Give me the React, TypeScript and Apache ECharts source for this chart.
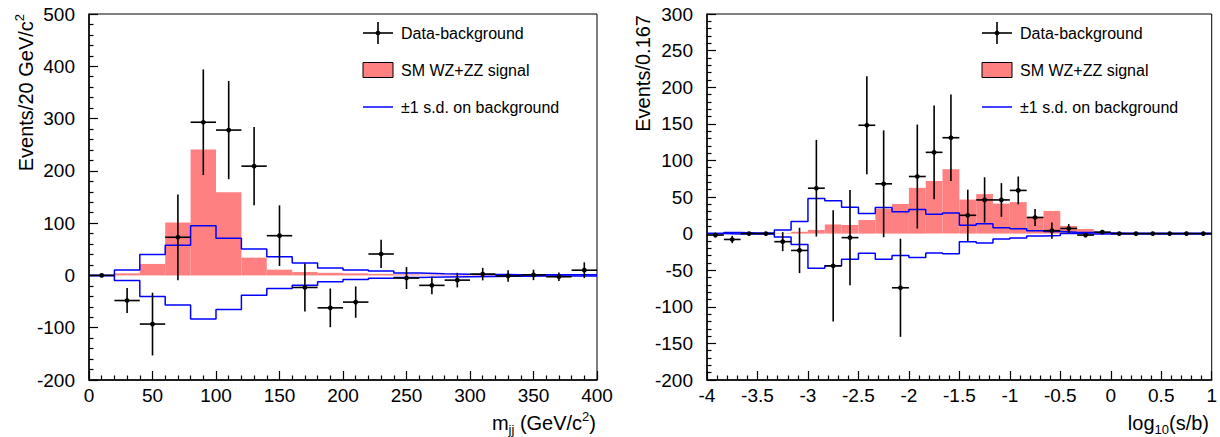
import React, { useEffect, useRef } from "react";
import * as echarts from "echarts";

// ---------- Left panel: m_jj ----------
const massEdges = [0, 20, 40, 60, 80, 100, 120, 140, 160, 180, 200, 220, 240, 260, 280, 300, 320, 340, 360, 380, 400];
const massData = [0, -48, -93, 73, 293, 278, 209, 76, -23, -62, -51, 41, -5, -19, -9, 2.5, -1, 1, -2.5, 10];
const massErr = [1, 24, 60, 82, 101, 94, 75, 58, 46, 37, 30, 27, 21, 17, 14, 12, 11, 10, 8, 15];
const massSignal = [0, 4, 22, 101, 241, 159, 34, 11, 6.5, 5, 4, 3, 2, 1.5, 1.2, 1, 0.8, 0.6, 0.5, 0.5];
const massBandUp = [0, 10.5, 40, 57.5, 95, 71, 50.5, 35.5, 24, 14, 10.5, 8.5, 4.6, 3.3, 2.2, 1.8, 1.5, 1.5, 1.3, 1.5];
const massBandDown = [0, -9.5, -40.5, -56.5, -83.5, -65, -38, -25, -19, -12, -8, -5.5, -4, -3, -2.5, -2, -1.5, -1.3, -1.2, -1];

// ---------- Right panel: log10(s/b) ----------
const lsbEdges = [-4, -3.833, -3.667, -3.5, -3.333, -3.167, -3, -2.833, -2.667, -2.5, -2.333, -2.167, -2, -1.833, -1.667, -1.5, -1.333, -1.167, -1, -0.833, -0.667, -0.5, -0.333, -0.167, 0, 0.167, 0.333, 0.5, 0.667, 0.833, 1];
const lsbData = [-2, -8, 0, 0, -11, -23, 62, -44, -5.5, 148, 68, -74, 78, 111, 131, 25, 46, 46, 59, 22, 4, 7, -2, 2, 0, 0, 0, 0, 0, 0];
const lsbErr = [3, 5, 1, 1, 13, 31, 66, 76, 65, 67, 73, 67, 71, 64, 59, 35, 31, 23, 19, 11.5, 11, 6, 3, 2, 1, 1, 1, 1, 1, 1];
const lsbSignal = [0, 0, 0, 0, 0.5, 2.5, 5, 12.5, 11.8, 18.5, 34, 40.5, 62.5, 71.8, 88, 46.5, 54, 41, 43, 23, 31, 10.5, 6.3, 2, 1, 1, 0.5, 0.5, 0.3, 0.3];
const lsbBandUp = [0, 1.5, 0.8, 0.8, 5, 16.5, 48, 45, 36, 27.5, 35.5, 30, 33, 26.5, 28, 11.5, 13.5, 8, 6.5, 3.8, 2.8, 2, 1.5, 1, 0.6, 0.5, 0.5, 0.5, 0.5, 0.5];
const lsbBandDown = [0, -0.5, -0.5, -0.5, -4.5, -15, -47.5, -44, -35, -27, -35, -30, -32.5, -26.5, -27.5, -11, -13, -7.5, -6, -3.3, -2.5, 0, -0.5, -0.5, -0.5, -0.5, -0.5, -0.5, -0.5, -0.5];

const legendLabels = ["Data-background", "SM WZ+ZZ signal", "\u00b11 s.d. on background"];

const FONT = "'Liberation Sans', Arial, Helvetica, sans-serif";
const SIGNAL_COLOR = "#ff8080";
const BAND_COLOR = "#0000ff";

function pointsData(edges: number[], vals: number[], errs: number[]) {
  return vals.map((v, i) => [
    (edges[i] + edges[i + 1]) / 2,
    v,
    (edges[i + 1] - edges[i]) / 2,
    errs[i],
  ]);
}
function histData(edges: number[], vals: number[]) {
  return vals.map((v, i) => [edges[i], edges[i + 1], v]);
}
function stepData(edges: number[], vals: number[]) {
  return edges.map((e, i) => [e, vals[Math.min(i, vals.length - 1)]]);
}

function renderPoint(params: any, api: any) {
  const x = api.value(0);
  const y = api.value(1);
  const hw = api.value(2);
  const e = api.value(3);
  const p = api.coord([x, y]);
  const t = api.coord([x, y + e]);
  const b = api.coord([x, y - e]);
  const l = api.coord([x - hw, y]);
  const r = api.coord([x + hw, y]);
  const st = { stroke: "#000", lineWidth: 1.6 };
  return {
    type: "group",
    children: [
      { type: "line", shape: { x1: p[0], y1: t[1], x2: p[0], y2: b[1] }, style: st },
      { type: "line", shape: { x1: l[0], y1: p[1], x2: r[0], y2: p[1] }, style: st },
      { type: "circle", shape: { cx: p[0], cy: p[1], r: 2.4 }, style: { fill: "#000" } },
    ],
  };
}

function renderBar(params: any, api: any) {
  const lo = api.value(0);
  const hi = api.value(1);
  const v = api.value(2);
  const a = api.coord([lo, v]);
  const b = api.coord([hi, 0]);
  return {
    type: "rect",
    shape: { x: a[0], y: Math.min(a[1], b[1]), width: b[0] - a[0], height: Math.abs(b[1] - a[1]) },
    style: { fill: SIGNAL_COLOR },
  };
}

const richText = {
  a: { fontSize: 20, lineHeight: 26, verticalAlign: "middle", fontFamily: FONT, fill: "#000" },
  sup: { fontSize: 13, lineHeight: 13, verticalAlign: "top", fontFamily: FONT, fill: "#000" },
  sub: { fontSize: 13, lineHeight: 13, verticalAlign: "bottom", fontFamily: FONT, fill: "#000" },
};

function xAxisCfg(gridIndex: number, min: number, max: number, interval: number) {
  return {
    type: "value",
    gridIndex,
    min,
    max,
    interval,
    axisLine: { show: true, onZero: false, lineStyle: { color: "#000", width: 1.5 } },
    axisTick: { show: true, inside: true, length: 9, lineStyle: { color: "#000", width: 1.2 } },
    minorTick: { show: true, splitNumber: 5, length: 4.5, lineStyle: { color: "#000", width: 1.2 } },
    splitLine: { show: false },
    minorSplitLine: { show: false },
    axisLabel: { fontSize: 19, color: "#000", margin: 6, fontFamily: FONT },
  };
}
function yAxisCfg(gridIndex: number, min: number, max: number, interval: number) {
  return {
    type: "value",
    gridIndex,
    min,
    max,
    interval,
    axisLine: { show: true, onZero: false, lineStyle: { color: "#000", width: 1.5 } },
    axisTick: { show: true, inside: true, length: 9, lineStyle: { color: "#000", width: 1.2 } },
    minorTick: { show: true, splitNumber: 5, length: 4.5, lineStyle: { color: "#000", width: 1.2 } },
    splitLine: { show: false },
    minorSplitLine: { show: false },
    axisLabel: { fontSize: 19, color: "#000", margin: 14, fontFamily: FONT },
  };
}

function legendGraphics(x0: number) {
  const textX = x0 + 38;
  const ys = [33, 70, 107];
  return [
    { type: "line", shape: { x1: x0, y1: ys[0], x2: x0 + 30, y2: ys[0] }, style: { stroke: "#000", lineWidth: 1.6 } },
    { type: "line", shape: { x1: x0 + 15, y1: ys[0] - 11, x2: x0 + 15, y2: ys[0] + 11 }, style: { stroke: "#000", lineWidth: 1.6 } },
    { type: "circle", shape: { cx: x0 + 15, cy: ys[0], r: 2.4 }, style: { fill: "#000" } },
    { type: "text", x: textX, y: ys[0], style: { text: legendLabels[0], fontSize: 16, fontFamily: FONT, fill: "#000", verticalAlign: "middle" } },
    { type: "rect", shape: { x: x0, y: ys[1] - 7.5, width: 30, height: 15 }, style: { fill: SIGNAL_COLOR, stroke: "#000", lineWidth: 1 } },
    { type: "text", x: textX, y: ys[1], style: { text: legendLabels[1], fontSize: 16, fontFamily: FONT, fill: "#000", verticalAlign: "middle" } },
    { type: "line", shape: { x1: x0, y1: ys[2], x2: x0 + 30, y2: ys[2] }, style: { stroke: BAND_COLOR, lineWidth: 1.5 } },
    { type: "text", x: textX, y: ys[2], style: { text: legendLabels[2], fontSize: 16, fontFamily: FONT, fill: "#000", verticalAlign: "middle" } },
  ];
}

export default function App() {
  const ref = useRef<HTMLDivElement>(null);
  useEffect(() => {
    if (!ref.current) return;
    const chart = echarts.init(ref.current, undefined, { renderer: "svg" });
    const lineSeries = (name: string, xi: number, data: any[]) => ({
      name,
      type: "line",
      xAxisIndex: xi,
      yAxisIndex: xi,
      step: "end",
      symbol: "none",
      data,
      lineStyle: { color: BAND_COLOR, width: 1.5 },
      z: 3,
    });
    chart.setOption({
      animation: false,
      backgroundColor: "#fff",
      grid: [
        { left: 89, top: 14, width: 508, height: 366, show: true, borderColor: "#000", borderWidth: 1 },
        { left: 707, top: 14, width: 508, height: 366, show: true, borderColor: "#000", borderWidth: 1 },
      ],
      xAxis: [xAxisCfg(0, 0, 400, 50), xAxisCfg(1, -4, 1, 0.5)],
      yAxis: [yAxisCfg(0, -200, 500, 100), yAxisCfg(1, -200, 300, 50)],
      series: [
        { name: "signal-mjj", type: "custom", xAxisIndex: 0, yAxisIndex: 0, renderItem: renderBar, data: histData(massEdges, massSignal), encode: { x: [0, 1], y: 2 }, z: 2 },
        lineSeries("up-mjj", 0, stepData(massEdges, massBandUp)),
        lineSeries("down-mjj", 0, stepData(massEdges, massBandDown)),
        { name: "data-mjj", type: "custom", xAxisIndex: 0, yAxisIndex: 0, renderItem: renderPoint, data: pointsData(massEdges, massData, massErr), encode: { x: 0, y: 1 }, z: 4 },
        { name: "signal-lsb", type: "custom", xAxisIndex: 1, yAxisIndex: 1, renderItem: renderBar, data: histData(lsbEdges, lsbSignal), encode: { x: [0, 1], y: 2 }, z: 2 },
        lineSeries("up-lsb", 1, stepData(lsbEdges, lsbBandUp)),
        lineSeries("down-lsb", 1, stepData(lsbEdges, lsbBandDown)),
        { name: "data-lsb", type: "custom", xAxisIndex: 1, yAxisIndex: 1, renderItem: renderPoint, data: pointsData(lsbEdges, lsbData, lsbErr), encode: { x: 0, y: 1 }, z: 4 },
      ],
      graphic: [
        ...legendGraphics(363),
        ...legendGraphics(982),
        {
          type: "text", x: 26, y: 14, rotation: Math.PI / 2,
          style: { text: "{a|Events/20 GeV/c}{sup|2}", rich: richText, align: "right", verticalAlign: "middle" },
        },
        {
          type: "text", x: 643, y: 15, rotation: Math.PI / 2,
          style: { text: "Events/0.167", fontSize: 20, fontFamily: FONT, fill: "#000", align: "right", verticalAlign: "middle" },
        },
        {
          type: "text", x: 596, y: 423,
          style: { text: "{a|m}{sub|jj}{a| (GeV/c}{sup|2}{a|)}", rich: richText, align: "right", verticalAlign: "middle" },
        },
        {
          type: "text", x: 1209, y: 423,
          style: { text: "{a|log}{sub|10}{a|(s/b)}", rich: richText, align: "right", verticalAlign: "middle" },
        },
      ],
    });
    return () => chart.dispose();
  }, []);
  return (
    <div
      ref={ref}
      style={{ position: "absolute", left: 0, top: 0, width: 1220, height: 437, background: "#fff" }}
    />
  );
}
